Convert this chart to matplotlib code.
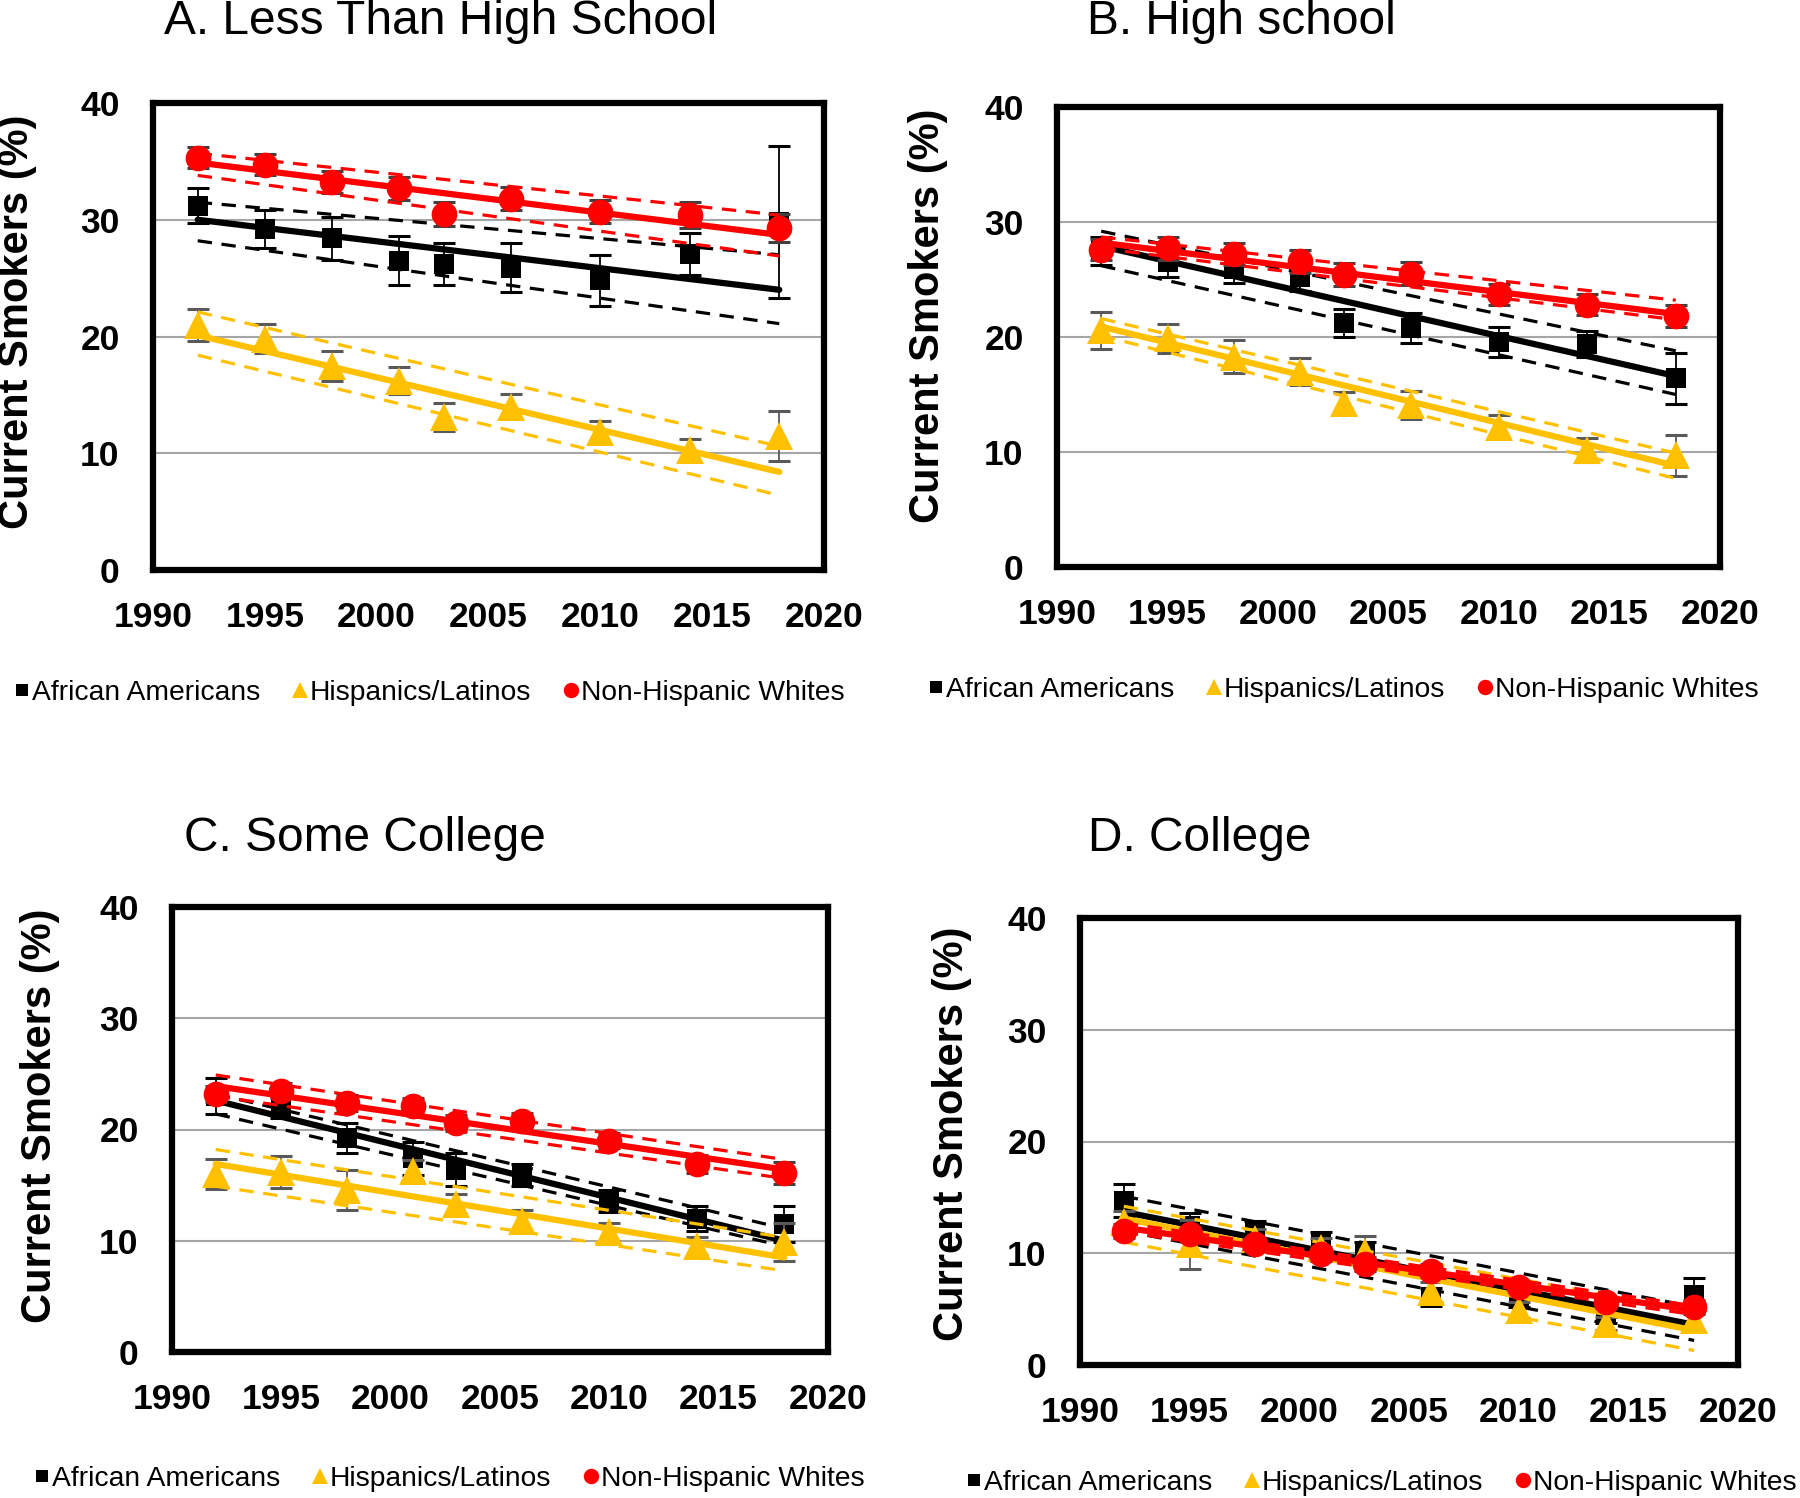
import matplotlib
matplotlib.use('Agg')
import matplotlib.pyplot as plt
from matplotlib.lines import Line2D

plt.rcParams['font.family'] = ['Liberation Sans', 'DejaVu Sans']

# survey years (TUS-CPS waves)
years = [1992, 1995, 1998, 2001, 2003, 2006, 2010, 2014, 2018]
fit_years = [1992, 2018]

# ---- A. Less than high school
aa_a = [31.2, 29.2, 28.4, 26.5, 26.2, 25.9, 24.8, 27.1, 29.8]
aa_a_err = [1.5, 1.6, 1.85, 2.1, 1.8, 2.1, 2.2, 1.8, 6.5]
his_a = [21.0, 19.8, 17.5, 16.2, 13.1, 14.0, 11.8, 10.3, 11.5]
his_a_err = [1.35, 1.25, 1.3, 1.15, 1.2, 1.05, 1.0, 0.95, 2.15]
nhw_a = [35.3, 34.7, 33.2, 32.7, 30.5, 31.8, 30.7, 30.4, 29.3]
nhw_a_err = [0.9, 0.9, 0.95, 1.0, 1.0, 1.0, 1.0, 1.1, 1.2]
aa_a_fit, aa_a_hi, aa_a_lo = [30.0, 24.0], [31.5, 27.0], [28.2, 21.1]
his_a_fit, his_a_hi, his_a_lo = [20.1, 8.4], [22.1, 10.6], [18.4, 6.4]
nhw_a_fit, nhw_a_hi, nhw_a_lo = [34.9, 28.7], [35.7, 30.4], [33.8, 26.9]

# ---- B. High school
aa_b = [27.5, 26.5, 25.9, 25.2, 21.2, 20.8, 19.6, 19.4, 16.4]
aa_b_err = [1.2, 1.3, 1.2, 1.2, 1.2, 1.3, 1.3, 1.15, 2.25]
his_b = [20.6, 19.9, 18.3, 17.0, 14.3, 14.1, 12.2, 10.2, 9.7]
his_b_err = [1.6, 1.25, 1.45, 1.2, 0.9, 1.2, 1.05, 1.05, 1.8]
nhw_b = [27.6, 27.7, 27.2, 26.6, 25.4, 25.5, 23.7, 22.8, 21.8]
nhw_b_err = [0.9, 1.0, 0.95, 1.0, 1.0, 1.0, 0.9, 0.9, 0.95]
aa_b_fit, aa_b_hi, aa_b_lo = [27.9, 16.6], [29.2, 18.8], [26.2, 15.0]
his_b_fit, his_b_hi, his_b_lo = [20.9, 8.8], [21.6, 9.9], [20.1, 7.7]
nhw_b_fit, nhw_b_hi, nhw_b_lo = [28.2, 22.0], [28.7, 23.2], [27.7, 21.5]

# ---- C. Some college
aa_c = [23.0, 22.0, 19.2, 17.4, 16.4, 15.9, 13.6, 12.0, 11.5]
aa_c_err = [1.6, 1.0, 1.35, 1.5, 1.5, 1.0, 1.0, 1.1, 1.6]
his_c = [16.0, 16.2, 14.6, 16.3, 13.3, 11.8, 10.8, 9.5, 9.9]
his_c_err = [1.35, 1.45, 1.8, 1.0, 0.9, 1.0, 0.8, 0.8, 1.7]
nhw_c = [23.2, 23.5, 22.4, 22.1, 20.6, 20.8, 19.0, 16.9, 16.1]
nhw_c_err = [0.7, 0.7, 0.7, 0.7, 0.7, 0.7, 0.7, 0.8, 1.0]
aa_c_fit, aa_c_hi, aa_c_lo = [22.6, 10.0], [23.2, 11.1], [21.4, 9.5]
his_c_fit, his_c_hi, his_c_lo = [16.9, 8.5], [18.2, 10.3], [14.9, 7.3]
nhw_c_fit, nhw_c_hi, nhw_c_lo = [23.9, 16.4], [24.9, 17.3], [23.0, 15.6]

# ---- D. College
aa_d = [14.7, 12.4, 11.9, 11.1, 10.0, 6.1, 6.0, 4.5, 6.3]
aa_d_err = [1.5, 1.2, 1.0, 0.8, 1.0, 0.8, 0.8, 0.7, 1.5]
his_d = [12.8, 10.8, 11.3, 10.5, 10.1, 6.5, 4.9, 3.7, 4.0]
his_d_err = [1.0, 2.2, 0.9, 0.9, 1.4, 0.9, 0.7, 0.6, 0.9]
nhw_d = [12.0, 11.7, 10.8, 9.95, 9.05, 8.45, 7.0, 5.6, 5.2]
nhw_d_err = [0.6, 0.6, 0.6, 0.6, 0.6, 0.6, 0.5, 0.5, 0.6]
aa_d_fit, aa_d_hi, aa_d_lo = [13.7, 3.6], [15.1, 5.2], [12.0, 2.2]
his_d_fit, his_d_hi, his_d_lo = [13.1, 3.1], [14.2, 4.8], [11.0, 1.3]
nhw_d_fit, nhw_d_hi, nhw_d_lo = [12.3, 4.9], [12.7, 5.3], [11.9, 4.5]

titles = ['A. Less Than High School', 'B. High school', 'C. Some College', 'D. College']
group_names = ['African Americans', 'Hispanics/Latinos', 'Non-Hispanic Whites']

BLACK = '#000000'
GOLD = '#ffc000'
RED = '#ff0000'

# axes rectangles (figure px: left, top, right, bottom), image is 1800x1498
W, H = 1800, 1498
boxes = [(153, 103, 824, 570), (1057, 107, 1720, 567),
         (172, 907, 828, 1352), (1080, 918, 1738, 1365)]
title_pos = [(164, 21), (1087, 21), (184, 838), (1088, 838)]
ylab_pos = [(17, 322), (928, 316), (40, 1116), (952, 1134)]
legend_pos = [(14, 693), (928, 690), (34, 1479), (966, 1483)]

panels = [
    [(aa_a, aa_a_err, aa_a_fit, aa_a_hi, aa_a_lo),
     (his_a, his_a_err, his_a_fit, his_a_hi, his_a_lo),
     (nhw_a, nhw_a_err, nhw_a_fit, nhw_a_hi, nhw_a_lo)],
    [(aa_b, aa_b_err, aa_b_fit, aa_b_hi, aa_b_lo),
     (his_b, his_b_err, his_b_fit, his_b_hi, his_b_lo),
     (nhw_b, nhw_b_err, nhw_b_fit, nhw_b_hi, nhw_b_lo)],
    [(aa_c, aa_c_err, aa_c_fit, aa_c_hi, aa_c_lo),
     (his_c, his_c_err, his_c_fit, his_c_hi, his_c_lo),
     (nhw_c, nhw_c_err, nhw_c_fit, nhw_c_hi, nhw_c_lo)],
    [(aa_d, aa_d_err, aa_d_fit, aa_d_hi, aa_d_lo),
     (his_d, his_d_err, his_d_fit, his_d_hi, his_d_lo),
     (nhw_d, nhw_d_err, nhw_d_fit, nhw_d_hi, nhw_d_lo)],
]

styles = [  # colour, marker, marker size, error bar colour
    (BLACK, 's', 14.5, '#000000'),
    (GOLD, '^', 20, '#595959'),
    (RED, 'o', 18.5, '#404040'),
]

fig = plt.figure(figsize=(18, 14.98), dpi=100)

for i, series in enumerate(panels):
    l, t, r, b = boxes[i]
    ax = fig.add_axes([l / W, 1 - b / H, (r - l) / W, (b - t) / H])
    ax.set_xlim(1990, 2020)
    ax.set_ylim(0, 40)
    ax.set_xticks([1990, 1995, 2000, 2005, 2010, 2015, 2020])
    ax.set_yticks([0, 10, 20, 30, 40])
    for g in [10, 20, 30]:
        ax.axhline(g, color='#a6a6a6', lw=1.5, zorder=0)
    ax.tick_params(length=0, labelsize=25.5, pad=22)
    ax.tick_params(axis='y', pad=24)
    for lab in ax.get_xticklabels() + ax.get_yticklabels():
        lab.set_fontweight('bold')
    for sp in ax.spines.values():
        sp.set_linewidth(4.5)
        sp.set_color('black')

    z = 2
    for (vals, err, fit, hi, lo), (col, mk, ms, ecol) in zip(series, styles):
        ax.errorbar(years, vals, yerr=err, fmt='none', ecolor=ecol,
                    elinewidth=1.3, capsize=8, capthick=2.2, zorder=z)
        ax.plot(years, vals, linestyle='none', marker=mk, ms=ms,
                color=col, markeredgewidth=0, zorder=z + 0.1)
        ax.plot(fit_years, fit, color=col, lw=4.5, zorder=z + 0.2,
                solid_capstyle='round')
        ax.plot(fit_years, hi, color=col, lw=2.3, ls=(0, (4.5, 3)), zorder=z + 0.2)
        ax.plot(fit_years, lo, color=col, lw=2.3, ls=(0, (4.5, 3)), zorder=z + 0.2)
        z += 1

    fig.text(title_pos[i][0] / W, 1 - title_pos[i][1] / H, titles[i],
             fontsize=34.5, ha='left', va='center')
    fig.text(ylab_pos[i][0] / W, 1 - ylab_pos[i][1] / H, 'Current Smokers (%)',
             fontsize=30, fontweight='bold', rotation=90, ha='center', va='center')

    handles = [Line2D([], [], linestyle='none', marker=mk, color=col,
                      markersize=ms * 0.6, markeredgewidth=0)
               for col, mk, ms, ecol in styles]
    ax.legend(handles, group_names, loc='center left',
              bbox_to_anchor=(legend_pos[i][0] / W, 1 - legend_pos[i][1] / H),
              bbox_transform=fig.transFigure, ncol=3, frameon=False,
              fontsize=20.3, handlelength=0.6, handletextpad=0.05,
              columnspacing=1.1, borderaxespad=0, borderpad=0)

fig.savefig('out.png', dpi=100)
